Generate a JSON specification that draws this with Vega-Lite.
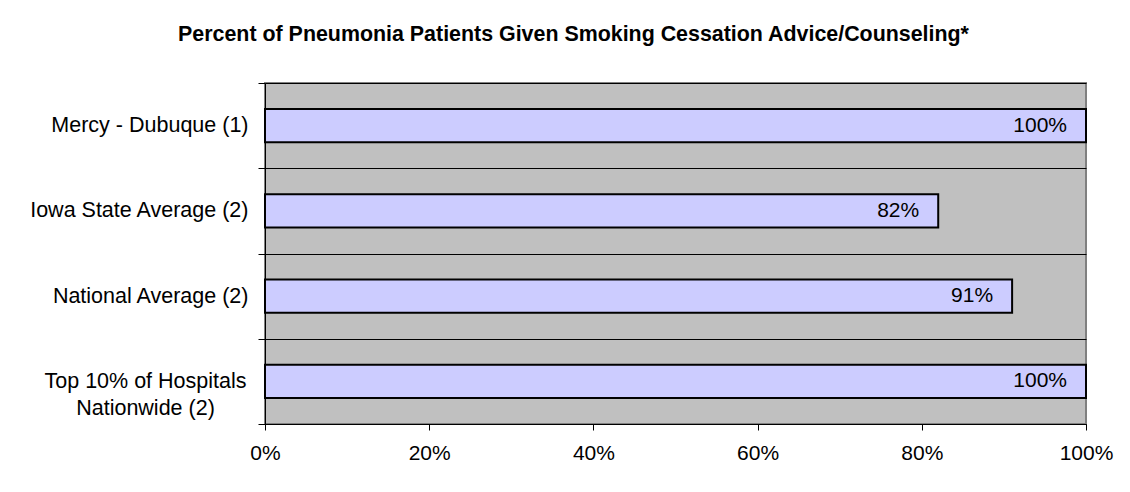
{
  "$schema": "https://vega.github.io/schema/vega-lite/v6.json",
  "autosize": {"type": "none"},
  "width": 821,
  "height": 341,
  "padding": {"left": 265, "top": 83, "right": 44, "bottom": 68},
  "background": "#ffffff",
  "title": {
    "text": "Percent of Pneumonia Patients Given Smoking Cessation Advice/Counseling*",
    "font": "Liberation Sans",
    "fontSize": 21.4,
    "fontWeight": "bold",
    "color": "#000000",
    "anchor": "middle",
    "dx": -102,
    "offset": 27
  },
  "data": {
    "values": [
      {"group": "Mercy - Dubuque (1)", "pct": 1.0},
      {"group": "Iowa State Average (2)", "pct": 0.82},
      {"group": "National Average (2)", "pct": 0.91},
      {"group": "Top 10% of Hospitals Nationwide (2)", "pct": 1.0}
    ]
  },
  "encoding": {
    "y": {
      "field": "group",
      "type": "nominal",
      "sort": null,
      "scale": {"paddingInner": 0, "paddingOuter": 0},
      "axis": {
        "title": null,
        "tickBand": "extent",
        "grid": true,
        "gridColor": "#000000",
        "gridWidth": 1,
        "gridOpacity": 1,
        "domainColor": "#000000",
        "domainWidth": 1,
        "tickColor": "#000000",
        "tickSize": 7,
        "labelFont": "Liberation Sans",
        "labelFontSize": 21.5,
        "labelColor": "#000000",
        "labelLineHeight": 27,
        "labelLimit": 400,
        "labelExpr": "datum.value == 'Top 10% of Hospitals Nationwide (2)' ? ['Top 10% of Hospitals', 'Nationwide (2)'] : datum.value",
        "labelAlign": {"condition": {"test": "datum.value == 'Top 10% of Hospitals Nationwide (2)'", "value": "center"}, "value": "right"},
        "labelPadding": {"condition": {"test": "datum.value == 'Top 10% of Hospitals Nationwide (2)'", "value": 113}, "value": 10}
      }
    },
    "x": {
      "field": "pct",
      "type": "quantitative",
      "scale": {"domain": [0, 1], "nice": false},
      "axis": {
        "title": null,
        "values": [0, 0.2, 0.4, 0.6, 0.8, 1],
        "format": ".0%",
        "grid": false,
        "domainColor": "#000000",
        "domainWidth": 1,
        "tickColor": "#000000",
        "tickSize": 6,
        "labelFont": "Liberation Sans",
        "labelFontSize": 21,
        "labelColor": "#000000",
        "labelPadding": 12,
        "labelFlush": false
      }
    }
  },
  "layer": [
    {
      "mark": {"type": "bar", "height": {"band": 0.39}, "fill": "#CCCCFF", "stroke": "#000000", "strokeWidth": 2}
    },
    {
      "mark": {"type": "text", "align": "right", "baseline": "middle", "dx": -19, "font": "Liberation Sans", "fontSize": 21, "color": "#000000"},
      "encoding": {
        "text": {"field": "pct", "type": "quantitative", "format": ".0%"}
      }
    }
  ],
  "config": {
    "view": {"fill": "#C0C0C0", "stroke": "#808080", "strokeWidth": 2}
  }
}
